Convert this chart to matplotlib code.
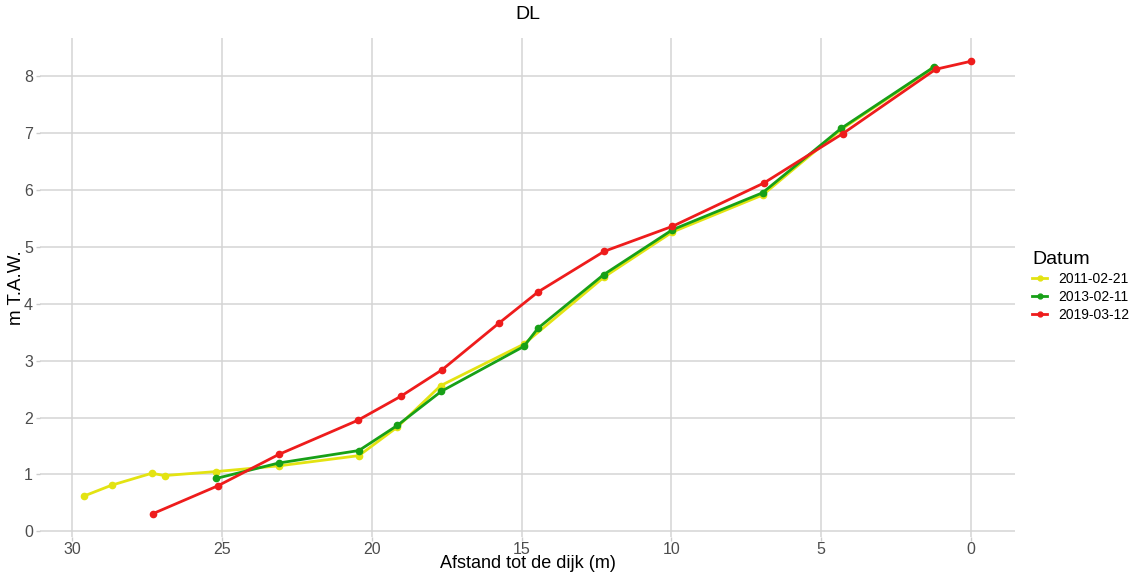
import matplotlib.pyplot as plt

plt.rcParams["font.family"] = ["Liberation Sans", "DejaVu Sans"]

# afstand tot de dijk (m) en hoogte (m T.A.W.) per opmeting
x_2011 = [29.61, 28.69, 27.35, 26.92, 25.2, 23.11, 20.43, 19.15, 17.7, 14.92, 12.24, 9.96, 6.95, 4.33, 1.26]
y_2011 = [0.62, 0.81, 1.02, 0.98, 1.05, 1.15, 1.33, 1.83, 2.56, 3.29, 4.47, 5.26, 5.91, 7.06, 8.14]

x_2013 = [25.19, 23.11, 20.43, 19.15, 17.68, 14.92, 14.45, 12.26, 9.96, 6.95, 4.33, 1.23]
y_2013 = [0.93, 1.2, 1.42, 1.86, 2.46, 3.25, 3.57, 4.51, 5.3, 5.95, 7.08, 8.16]

x_2019 = [27.31, 25.14, 23.11, 20.47, 19.04, 17.65, 15.75, 14.44, 12.24, 9.96, 6.91, 4.27, 1.17, 0.0]
y_2019 = [0.31, 0.8, 1.35, 1.95, 2.37, 2.84, 3.66, 4.21, 4.92, 5.36, 6.12, 6.99, 8.12, 8.26]

series = [
    ("2011-02-21", x_2011, y_2011, "#e3e312"),
    ("2013-02-11", x_2013, y_2013, "#17a017"),
    ("2019-03-12", x_2019, y_2019, "#ee1c1c"),
]

fig = plt.figure(figsize=(11.34, 5.73), dpi=100)
ax = fig.add_axes([40 / 1134, 36 / 573, 975 / 1134, 499 / 573])

for label, xs, ys, col in series:
    ax.plot(xs, ys, color=col, lw=2, marker="o", ms=4.5, label=label)

ax.set_xlim(31.08, -1.48)
ax.set_ylim(-0.1, 8.67)
ax.set_xticks([30, 25, 20, 15, 10, 5, 0])
ax.set_yticks(range(0, 9))

ax.grid(True, color="#d4d4d4", lw=1.1)
ax.set_axisbelow(True)
for s in ax.spines.values():
    s.set_visible(False)
ax.tick_params(axis="both", colors="#cccccc", labelcolor="#4d4d4d", labelsize=11.5,
               length=3, width=1, pad=2)
ax.tick_params(axis="x", pad=0.5)

ax.set_title("DL", fontsize=14, pad=14)
ax.set_xlabel("Afstand tot de dijk (m)", fontsize=13, labelpad=-1)
ax.set_ylabel("m T.A.W.", fontsize=13.5, labelpad=-1)

leg = fig.legend(title="Datum", loc="center left", bbox_to_anchor=(1025 / 1134, 0.5),
                 frameon=False, fontsize=10, title_fontsize=14, borderpad=0,
                 handlelength=1.1, handletextpad=0.8, labelspacing=0.3)
leg._legend_box.align = "left"
for h in leg.legend_handles:
    h.set_markersize(3.5)

fig.savefig("out.png", dpi=100)
